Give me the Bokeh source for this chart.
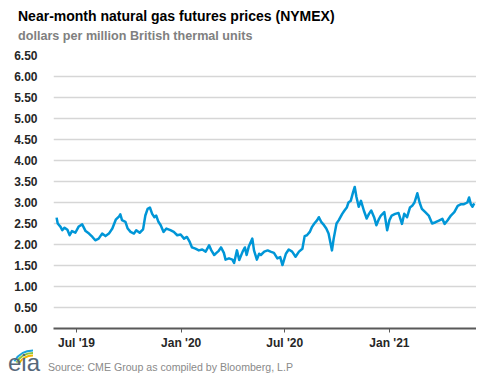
from bokeh.plotting import figure
from bokeh.layouts import column
from bokeh.models import ColumnDataSource, FixedTicker, PrintfTickFormatter, Range1d, Div
from bokeh.embed import file_html
from bokeh.resources import INLINE
import pandas as pd

# ---- data ----
dates = [
    "2019-05-27", "2019-05-29", "2019-06-03", "2019-06-06", "2019-06-10", "2019-06-15",
    "2019-06-19", "2019-06-23", "2019-06-29", "2019-07-05", "2019-07-11", "2019-07-17",
    "2019-07-23", "2019-07-29", "2019-08-03", "2019-08-09", "2019-08-15", "2019-08-21",
    "2019-08-27", "2019-09-02", "2019-09-08", "2019-09-14", "2019-09-16", "2019-09-19",
    "2019-09-25", "2019-09-29", "2019-10-04", "2019-10-10", "2019-10-14", "2019-10-20",
    "2019-10-26", "2019-10-30", "2019-11-03", "2019-11-07", "2019-11-11", "2019-11-15",
    "2019-11-18", "2019-11-22", "2019-11-26", "2019-12-01", "2019-12-06", "2019-12-13",
    "2019-12-19", "2019-12-25", "2019-12-31", "2020-01-06", "2020-01-11", "2020-01-16",
    "2020-01-20", "2020-01-26", "2020-02-01", "2020-02-07", "2020-02-13", "2020-02-19",
    "2020-02-23", "2020-02-28", "2020-03-03", "2020-03-07", "2020-03-11", "2020-03-16",
    "2020-03-19", "2020-03-25", "2020-03-31", "2020-04-03", "2020-04-08", "2020-04-12",
    "2020-04-18", "2020-04-22", "2020-04-25", "2020-04-29", "2020-05-05", "2020-05-08",
    "2020-05-13", "2020-05-17", "2020-05-20", "2020-05-26", "2020-06-01", "2020-06-06",
    "2020-06-12", "2020-06-18", "2020-06-23", "2020-06-27", "2020-07-03", "2020-07-08",
    "2020-07-14", "2020-07-20", "2020-07-26", "2020-08-01", "2020-08-05", "2020-08-09",
    "2020-08-14", "2020-08-18", "2020-08-22", "2020-08-27", "2020-08-30", "2020-09-03",
    "2020-09-08", "2020-09-12", "2020-09-16", "2020-09-19", "2020-09-22", "2020-09-25",
    "2020-09-30", "2020-10-04", "2020-10-10", "2020-10-14", "2020-10-18", "2020-10-21",
    "2020-10-25", "2020-10-29", "2020-11-01", "2020-11-04", "2020-11-08", "2020-11-12",
    "2020-11-17", "2020-11-22", "2020-11-26", "2020-11-30", "2020-12-05", "2020-12-09",
    "2020-12-13", "2020-12-17", "2020-12-23", "2020-12-28", "2021-01-01", "2021-01-05",
    "2021-01-11", "2021-01-17", "2021-01-23", "2021-01-27", "2021-02-01", "2021-02-06",
    "2021-02-10", "2021-02-14", "2021-02-19", "2021-02-23", "2021-02-27", "2021-03-05",
    "2021-03-11", "2021-03-17", "2021-03-23", "2021-03-29", "2021-04-04", "2021-04-08",
    "2021-04-13", "2021-04-19", "2021-04-25", "2021-05-01", "2021-05-07", "2021-05-12",
    "2021-05-18", "2021-05-21", "2021-05-24", "2021-05-27", "2021-05-30",
]
prices = [
    2.64, 2.50, 2.42, 2.34, 2.40, 2.35,
    2.22, 2.32, 2.28, 2.43, 2.48, 2.32,
    2.26, 2.18, 2.10, 2.14, 2.26, 2.20,
    2.26, 2.38, 2.59, 2.67, 2.72, 2.58,
    2.54, 2.38, 2.30, 2.26, 2.34, 2.28,
    2.36, 2.69, 2.85, 2.88, 2.73, 2.65,
    2.69, 2.54, 2.46, 2.30, 2.38, 2.34,
    2.30, 2.22, 2.24, 2.14, 2.18, 2.06,
    1.93, 1.90, 1.86, 1.88, 1.83, 1.98,
    1.86, 1.75, 1.80, 1.85, 1.93, 1.80,
    1.64, 1.67, 1.64, 1.56, 1.86, 1.63,
    1.83, 1.93, 1.75, 1.96, 2.14, 1.86,
    1.64, 1.78, 1.75, 1.83, 1.86, 1.83,
    1.80, 1.67, 1.70, 1.51, 1.78, 1.88,
    1.83, 1.71, 1.83, 1.90, 2.20, 2.22,
    2.30, 2.42, 2.50, 2.58, 2.65, 2.54,
    2.46, 2.38, 2.26, 2.06, 1.86, 2.14,
    2.50, 2.58, 2.73, 2.81, 2.88, 3.00,
    3.04, 3.24, 3.37, 3.13, 2.90, 3.04,
    2.81, 2.62, 2.73, 2.81, 2.65, 2.46,
    2.59, 2.69, 2.77, 2.34, 2.58, 2.69,
    2.73, 2.75, 2.49, 2.73, 2.65, 2.88,
    2.92, 3.00, 3.22, 3.00, 2.85, 2.77,
    2.69, 2.50, 2.53, 2.57, 2.61, 2.49,
    2.57, 2.69, 2.77, 2.92, 2.96, 2.96,
    3.00, 3.12, 2.96, 2.90, 2.98,
]
y_ticks = [0.0, 0.5, 1.0, 1.5, 2.0, 2.5, 3.0, 3.5, 4.0, 4.5, 5.0, 5.5, 6.0, 6.5]
x_tick_dates = ["2019-07-01", "2020-01-01", "2020-07-01", "2021-01-01"]
x_tick_labels = ["Jul '19", "Jan '20", "Jul '20", "Jan '21"]
x_start, x_end = "2019-05-21 14:00", "2021-06-03"

title_text = "Near-month natural gas futures prices (NYMEX)"
subtitle_text = "dollars per million British thermal units"
source_text = "Source: CME Group as compiled by Bloomberg, L.P"
logo_text = "eia"

FONT = "Liberation Sans"
LINE_COLOR = "#0096d7"

src = ColumnDataSource(dict(date=pd.to_datetime(dates), price=prices))

# header: title and subtitle
header_html = f"""
<svg xmlns="http://www.w3.org/2000/svg" width="476" height="45" style="display:block">
  <text x="18" y="21" font-family="{FONT}" font-weight="bold" font-size="14" fill="#000000">{title_text}</text>
  <text x="18" y="39.5" font-family="{FONT}" font-weight="bold" font-size="12.6" fill="#808080">{subtitle_text}</text>
</svg>
"""
header = Div(text=header_html, width=476, height=45, styles={"margin": "0", "padding": "0"})

p = figure(
    width=476, height=307, x_axis_type="datetime",
    x_range=Range1d(pd.Timestamp(x_start), pd.Timestamp(x_end)),
    y_range=Range1d(0, 6.5),
    output_backend="svg", toolbar_location=None,
    min_border_left=53, min_border_right=0, min_border_top=10, min_border_bottom=23,
)
p.outline_line_color = None
p.background_fill_color = "white"
p.border_fill_color = "white"

p.line("date", "price", source=src, line_color=LINE_COLOR, line_width=2.5, line_join="round")

# x axis
tick_ms = [int(pd.Timestamp(d).value // 10**6) for d in x_tick_dates]
p.xaxis.ticker = FixedTicker(ticks=tick_ms)
p.xaxis.major_label_overrides = {t: l for t, l in zip(tick_ms, x_tick_labels)}
p.xaxis.axis_line_color = "#595959"
p.xaxis.axis_line_width = 2
p.xaxis.major_tick_line_color = "#595959"
p.xaxis.major_tick_line_width = 1
p.xaxis.major_tick_out = 4
p.xaxis.major_tick_in = 0
p.xaxis.minor_tick_line_color = None
p.xaxis.major_label_standoff = 3
p.xaxis.major_label_text_font = FONT
p.xaxis.major_label_text_font_style = "bold"
p.xaxis.major_label_text_font_size = "12px"
p.xaxis.major_label_text_color = "#262626"

# y axis
p.yaxis.ticker = FixedTicker(ticks=y_ticks)
p.yaxis.formatter = PrintfTickFormatter(format="%.2f")
p.yaxis.axis_line_color = None
p.yaxis.major_tick_line_color = None
p.yaxis.minor_tick_line_color = None
p.yaxis.major_label_standoff = 10
p.yaxis.major_label_text_font = FONT
p.yaxis.major_label_text_font_style = "bold"
p.yaxis.major_label_text_font_size = "12px"
p.yaxis.major_label_text_color = "#262626"

p.xgrid.visible = False
p.ygrid.grid_line_color = "#d6d6d6"
p.ygrid.grid_line_width = 1.5

# footer: logo and source line
footer_html = f"""
<svg xmlns="http://www.w3.org/2000/svg" width="476" height="26" style="display:block;overflow:visible">
  <path d="M 14.4 9.2 A 21.5 21.5 0 0 1 33 -1.5" stroke="#1aa3dc" stroke-width="2" fill="none"/>
  <path d="M 16.5 10.5 A 19 19 0 0 1 33 1" stroke="#8cc63f" stroke-width="2" fill="none"/>
  <path d="M 18.7 11.8 A 16.5 16.5 0 0 1 33 3.5" stroke="#f2b705" stroke-width="2" fill="none"/>
  <text x="8" y="19" font-family="Liberation Serif" font-size="24" fill="#56687a">{logo_text}</text>
  <text x="48" y="19" font-family="{FONT}" font-size="10.6" fill="#8a8a8a">{source_text}</text>
</svg>
"""
footer = Div(text=footer_html, width=476, height=26,
             styles={"margin": "0", "padding": "0", "overflow": "visible"})

layout = column(header, p, footer, spacing=0)
open("out.html", "w").write(file_html(layout, INLINE))
